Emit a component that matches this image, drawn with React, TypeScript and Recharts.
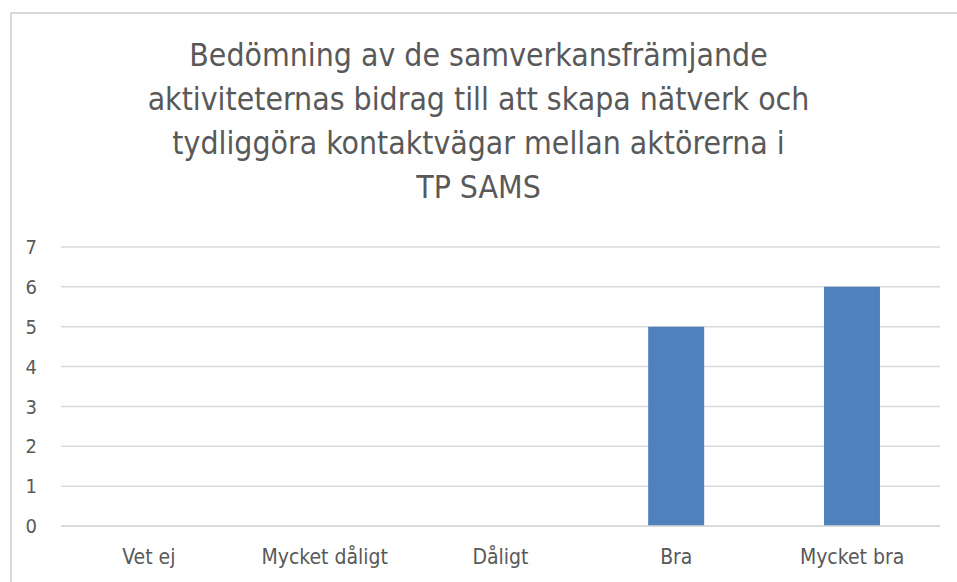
import React from 'react';
import { BarChart, Bar, XAxis, YAxis, CartesianGrid } from 'recharts';

const categories = ['Vet ej', 'Mycket dåligt', 'Dåligt', 'Bra', 'Mycket bra'];
const counts = [0, 0, 0, 5, 6];
const yTicks = [0, 1, 2, 3, 4, 5, 6, 7];
const titleLines = [
  'Bedömning av de samverkansfrämjande',
  'aktiviteternas bidrag till att skapa nätverk och',
  'tydliggöra kontaktvägar mellan aktörerna i',
  'TP SAMS',
];

const data = categories.map((name, i) => ({ name, value: counts[i] }));

const FONT = '"Liberation Sans Narrow", "DejaVu Sans Condensed", sans-serif';
const TEXT = '#595959';
const GRID = '#d9d9d9';

export default function App() {
  return (
    <div style={{ position: 'absolute', left: 0, top: 0, width: 957, height: 582, background: '#fff', overflow: 'hidden' }}>
      <div
        style={{
          position: 'absolute',
          left: 10,
          top: 12,
          width: 1000,
          height: 600,
          border: `2px solid ${GRID}`,
          boxSizing: 'border-box',
        }}
      />
      <div
        style={{
          position: 'absolute',
          left: 0,
          top: 33,
          width: 957,
          textAlign: 'center',
          fontFamily: FONT,
          fontSize: 31.7,
          lineHeight: '44px',
          color: TEXT,
        }}
      >
        {titleLines.map((line) => (
          <div key={line}>{line}</div>
        ))}
      </div>
      <div style={{ position: 'absolute', left: 0, top: 0 }}>
        <BarChart
          width={957}
          height={582}
          data={data}
          margin={{ top: 247, right: 17, bottom: 26, left: 0 }}
          barCategoryGap="34%"
        >
          <CartesianGrid vertical={false} stroke={GRID} strokeWidth={1.5} />
          <XAxis
            dataKey="name"
            height={30}
            axisLine={{ stroke: GRID, strokeWidth: 1.5 }}
            tickLine={false}
            tickMargin={17}
            tick={{ fill: TEXT, fontSize: 21, fontFamily: FONT }}
          />
          <YAxis
            width={61}
            domain={[0, 7]}
            ticks={yTicks}
            interval={0}
            axisLine={false}
            tickLine={false}
            tickSize={0}
            tickMargin={24}
            tick={{ fill: TEXT, fontSize: 20, fontFamily: FONT }}
          />
          <Bar dataKey="value" fill="#4f81bd" isAnimationActive={false} />
        </BarChart>
      </div>
    </div>
  );
}
